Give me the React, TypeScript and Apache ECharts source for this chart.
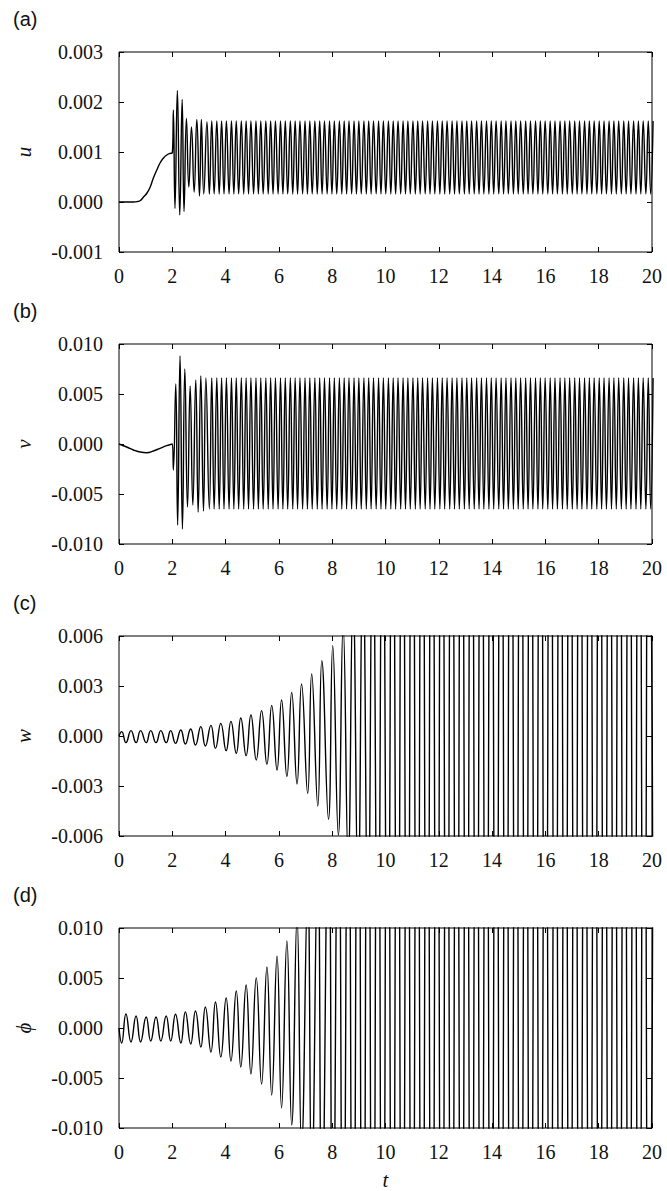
import React, { useEffect, useRef } from "react";
import * as echarts from "echarts";

// ---------- panel (a): u ----------
const uTransT = [0.0, 0.3, 0.54, 0.7, 0.8, 0.92, 1.05, 1.17, 1.29, 1.42, 1.54, 1.67, 1.79, 1.9, 2.0,
  2.04, 2.1, 2.19, 2.28, 2.37, 2.44, 2.53, 2.62, 2.72, 2.82, 2.92, 3.02, 3.09, 3.18, 3.3];
const uTransV = [0.0, 0.0, 0.0, 0.00001, 0.00003, 0.0001, 0.00018, 0.0003, 0.00048, 0.00064, 0.00078, 0.00088, 0.00094, 0.00097, 0.00098,
  0.00184, -0.00013, 0.00223, -0.00026, 0.00205, -0.00019, 0.00167, 0.0003, 0.0015, 0.0002, 0.00165, 0.00012, 0.00165, 0.00016, 0.0016];
const uLow = 0.00016;
const uHigh = 0.00162;

// ---------- panel (b): v ----------
const vTransT = [0.0, 0.29, 0.54, 0.79, 1.04, 1.29, 1.54, 1.79, 2.0,
  2.04, 2.13, 2.2, 2.29, 2.38, 2.47, 2.57, 2.67, 2.77, 2.88, 2.97, 3.07, 3.17, 3.26];
const vTransV = [0.0, -0.0003, -0.0006, -0.0008, -0.00087, -0.0007, -0.00043, -0.00017, 0.0,
  -0.0026, 0.006, -0.0081, 0.0088, -0.0085, 0.0075, -0.0063, 0.0058, -0.0061, 0.0064, -0.0068, 0.0068, -0.0067, 0.0066];
const vLow = -0.0065;
const vHigh = 0.0066;

// steady-state extremum times of the fast oscillation (trough first)
const fastT = [
  3.39, 3.48, 3.57, 3.67, 3.76, 3.85, 3.94, 4.03, 4.13, 4.22,
  4.31, 4.40, 4.49, 4.59, 4.68, 4.77, 4.86, 4.95, 5.05, 5.14,
  5.23, 5.32, 5.41, 5.51, 5.60, 5.69, 5.78, 5.87, 5.97, 6.06,
  6.15, 6.24, 6.33, 6.43, 6.52, 6.61, 6.70, 6.79, 6.89, 6.98,
  7.07, 7.16, 7.25, 7.35, 7.44, 7.53, 7.62, 7.71, 7.81, 7.90,
  7.99, 8.08, 8.17, 8.27, 8.36, 8.45, 8.54, 8.63, 8.73, 8.82,
  8.91, 9.00, 9.09, 9.19, 9.28, 9.37, 9.46, 9.55, 9.65, 9.74,
  9.83, 9.92, 10.01, 10.11, 10.20, 10.29, 10.38, 10.47, 10.57, 10.66,
  10.75, 10.84, 10.93, 11.03, 11.12, 11.21, 11.30, 11.39, 11.49, 11.58,
  11.67, 11.76, 11.85, 11.95, 12.04, 12.13, 12.22, 12.31, 12.41, 12.50,
  12.59, 12.68, 12.77, 12.87, 12.96, 13.05, 13.14, 13.23, 13.33, 13.42,
  13.51, 13.60, 13.69, 13.79, 13.88, 13.97, 14.06, 14.15, 14.25, 14.34,
  14.43, 14.52, 14.61, 14.71, 14.80, 14.89, 14.98, 15.07, 15.17, 15.26,
  15.35, 15.44, 15.53, 15.63, 15.72, 15.81, 15.90, 15.99, 16.09, 16.18,
  16.27, 16.36, 16.45, 16.55, 16.64, 16.73, 16.82, 16.91, 17.01, 17.10,
  17.19, 17.28, 17.37, 17.47, 17.56, 17.65, 17.74, 17.83, 17.93, 18.02,
  18.11, 18.20, 18.29, 18.39, 18.48, 18.57, 18.66, 18.75, 18.85, 18.94,
  19.03, 19.12, 19.21, 19.31, 19.40, 19.49, 19.58, 19.67, 19.77, 19.86,
  19.95, 20.04,
];

// ---------- panels (c) w and (d) phi : slow oscillation ----------
const slowT = [0.0, 0.1, 0.26, 0.45, 0.64, 0.81, 1.02, 1.19, 1.39, 1.57, 1.77, 1.94, 2.12, 2.32, 2.49, 2.69,
  2.87, 3.07, 3.24, 3.45, 3.62, 3.82, 4.02, 4.2, 4.4, 4.57, 4.77, 4.95, 5.15, 5.35, 5.55, 5.73, 5.93, 6.1,
  6.3, 6.48, 6.68, 6.85, 7.08, 7.23, 7.46, 7.61, 7.86, 8.02, 8.23, 8.41];
const wV = [0.0, 0.00026, -0.0004, 0.00032, -0.0004, 0.00032, -0.0004, 0.00032, -0.0004, 0.00032, -0.0004,
  0.00032, -0.00044, 0.00036, -0.00048, 0.00042, -0.00054, 0.00056, -0.0006, 0.00064, -0.00074, 0.00076,
  -0.00088, 0.00088, -0.00104, 0.00108, -0.00118, 0.00126, -0.00144, 0.00152, -0.0017, 0.00184, -0.00204,
  0.00216, -0.00244, 0.00262, -0.00288, 0.00312, -0.00344, 0.00372, -0.0042, 0.00452, -0.005, 0.00542,
  -0.00594, 0.0066];
const phiV = [0.0, -0.0015, 0.0014, -0.0014, 0.0012, -0.0014, 0.0011, -0.0013, 0.0011, -0.0013, 0.0012,
  -0.0013, 0.00137, -0.0015, 0.0016, -0.0016, 0.0017, -0.0019, 0.0021, -0.0024, 0.0026, -0.0029, 0.003,
  -0.0033, 0.0037, -0.0039, 0.0043, -0.0046, 0.005, -0.0056, 0.0061, -0.0067, 0.0072, -0.008, 0.0087,
  -0.0097, 0.011, -0.012, 0.014, -0.016, 0.018, -0.021, 0.024, -0.027, 0.03, -0.033];

// extremum times after the curves leave the frame (w trough / phi peak first)
const slowSatT = [8.6, 8.78, 8.97, 9.15, 9.34, 9.52, 9.71, 9.89, 10.08, 10.26, 10.45, 10.63, 10.82, 11.0,
  11.19, 11.37, 11.56, 11.74, 11.93, 12.11, 12.3, 12.48, 12.67, 12.85, 13.04, 13.22, 13.41, 13.59, 13.78,
  13.96, 14.15, 14.33, 14.52, 14.7, 14.89, 15.07, 15.26, 15.44, 15.63, 15.81, 16.0, 16.18, 16.37, 16.55,
  16.74, 16.92, 17.11, 17.29, 17.48, 17.66, 17.85, 18.03, 18.22, 18.4, 18.59, 18.77, 18.96, 19.14, 19.33,
  19.51, 19.7, 19.88, 20.07];
const wSatAmp = [0.0075, 0.0085, 0.0095, 0.011, 0.012, 0.014, 0.016, 0.018, 0.02, 0.022, 0.024, 0.026, 0.028];
const wSatLevel = 0.03;
const phiSatAmp = [0.036, 0.04, 0.045];
const phiSatLevel = 0.05;

// ---------- axes ----------
const xTicks = { min: 0, max: 20, interval: 2 };
const yAxesDef = [
  { min: -0.001, max: 0.003, interval: 0.001 },
  { min: -0.01, max: 0.01, interval: 0.005 },
  { min: -0.006, max: 0.006, interval: 0.003 },
  { min: -0.01, max: 0.01, interval: 0.005 },
];
const panelLabels = ["(a)", "(b)", "(c)", "(d)"];
const yNames = ["u", "v", "w", "\u03D5"];
const xName = "t";

function zip(t: number[], v: number[]) {
  return t.map((x, i) => [x, v[i]]);
}

const uData = zip(uTransT, uTransV).concat(fastT.map((t, i) => [t, i % 2 === 0 ? uLow : uHigh]));
const vData = zip(vTransT, vTransV).concat(fastT.map((t, i) => [t, i % 2 === 0 ? vLow : vHigh]));
const wData = zip(slowT, wV).concat(
  slowSatT.map((t, i) => {
    const a = i < wSatAmp.length ? wSatAmp[i] : wSatLevel;
    return [t, i % 2 === 0 ? -a : a];
  })
);
const phiData = zip(slowT, phiV).concat(
  slowSatT.map((t, i) => {
    const a = i < phiSatAmp.length ? phiSatAmp[i] : phiSatLevel;
    return [t, i % 2 === 0 ? a : -a];
  })
);
const seriesData = [uData, vData, wData, phiData];

export default function App() {
  const ref = useRef<HTMLDivElement>(null);
  useEffect(() => {
    if (!ref.current) return;
    const chart = echarts.init(ref.current, null, { renderer: "svg" });
    const grids: any[] = [];
    const xAxes: any[] = [];
    const yAxes: any[] = [];
    const series: any[] = [];
    const graphics: any[] = [];
    const left = 119;
    const width = 533;
    const height = 200;
    const tickStyle = { show: true, inside: true, length: 5, lineStyle: { color: "#000", width: 1 } };
    const noLine = { show: false, onZero: false };
    for (let i = 0; i < 4; i++) {
      const top = 52 + i * 292;
      grids.push({ left, top, width, height, show: true, borderColor: "#000", borderWidth: 1, backgroundColor: "transparent" });
      const xc = { type: "value", gridIndex: i, ...xTicks, axisLine: noLine, splitLine: { show: false } };
      xAxes.push({ ...xc, position: "bottom", axisTick: tickStyle,
        axisLabel: { fontFamily: "serif", fontSize: 20, color: "#111", margin: 14 } });
      xAxes.push({ ...xc, position: "top", axisTick: tickStyle, axisLabel: { show: false } });
      const yc = { type: "value", gridIndex: i, ...yAxesDef[i], axisLine: noLine, splitLine: { show: false } };
      yAxes.push({ ...yc, position: "left", axisTick: tickStyle,
        axisLabel: { fontFamily: "Times New Roman, serif", fontSize: 20, color: "#111", margin: 16,
          formatter: (v: number) => (Math.abs(v) < 1e-12 ? "0.000" : v.toFixed(3)) } });
      yAxes.push({ ...yc, position: "right", axisTick: tickStyle, axisLabel: { show: false } });
      series.push({
        type: "line", xAxisIndex: 2 * i, yAxisIndex: 2 * i, data: seriesData[i], symbol: "none",
        smooth: 0.5, clip: true, silent: true, lineStyle: { color: "#000", width: 1.4 },
      });
      graphics.push({ type: "text", left: 13, top: top - 43, style: { text: panelLabels[i], fill: "#111", font: '20px "Liberation Sans"' } });
      graphics.push({ type: "text", x: 24, y: top + 100, rotation: Math.PI / 2,
        style: { text: yNames[i], fill: "#111", font: "italic 21px serif", align: "center", verticalAlign: "middle" } });
    }
    graphics.push({ type: "text", x: left + width / 2, y: 1180,
      style: { text: xName, fill: "#111", font: "italic 21px serif", align: "center", verticalAlign: "middle" } });
    chart.setOption({
      animation: false,
      backgroundColor: "#fff",
      grid: grids,
      xAxis: xAxes,
      yAxis: yAxes,
      series,
      graphic: graphics,
    });
    return () => chart.dispose();
  }, []);
  return <div ref={ref} style={{ position: "absolute", left: 0, top: 0, width: 667, height: 1191 }} />;
}
